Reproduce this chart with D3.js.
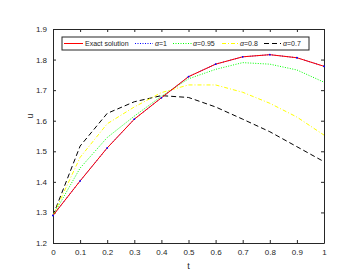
<!DOCTYPE html>
<html>
<head>
<meta charset="utf-8">
<script src="https://cdn.jsdelivr.net/npm/d3@7"></script>
<style>
  body { margin: 0; background: #fff; }
  svg text, svg tspan { font-family: "Liberation Sans", Arial, sans-serif; fill: #262626; }
  .axis path, .axis line { stroke: #262626; }
</style>
</head>
<body>
<div id="chart"></div>
<script>
var tValues = [0, 0.1, 0.2, 0.3, 0.4, 0.5, 0.6, 0.7, 0.8, 0.9, 1];
var exactU  = [1.29, 1.403, 1.511, 1.605, 1.675, 1.744, 1.785, 1.809, 1.816, 1.806, 1.778];
var alpha1  = [1.29, 1.403, 1.511, 1.605, 1.675, 1.744, 1.785, 1.809, 1.816, 1.806, 1.778];
var alpha095 = [1.29, 1.445, 1.545, 1.615, 1.68, 1.737, 1.768, 1.79, 1.785, 1.766, 1.726];
var alpha08 = [1.29, 1.48, 1.59, 1.645, 1.692, 1.717, 1.717, 1.693, 1.657, 1.612, 1.553];
var alpha07 = [1.29, 1.517, 1.624, 1.662, 1.682, 1.676, 1.645, 1.605, 1.564, 1.515, 1.466];
var xTicks = [0, 0.1, 0.2, 0.3, 0.4, 0.5, 0.6, 0.7, 0.8, 0.9, 1];
var yTicks = [1.2, 1.3, 1.4, 1.5, 1.6, 1.7, 1.8, 1.9];
var legendLabels = ["Exact solution", "\u03b1=1", "\u03b1=0.95", "\u03b1=0.8", "\u03b1=0.7"];

var margin = {top: 29, right: 32, bottom: 30, left: 53};
var width = 356 - margin.left - margin.right;
var height = 273 - margin.top - margin.bottom;

var svg = d3.select("#chart").append("svg")
  .attr("width", 356)
  .attr("height", 273)
  .append("g")
  .attr("transform", "translate(" + margin.left + "," + margin.top + ")");

var xScale = d3.scaleLinear().domain([0, 1]).range([0, width]);
var yScale = d3.scaleLinear().domain([1.2, 1.9]).range([height, 0]);

var fmt = function(d) { return d === 0 || d === 1 ? String(d) : d3.format(".1f")(d); };

// axes (MATLAB style box with inward ticks)
svg.append("g")
  .attr("class", "axis")
  .attr("transform", "translate(0," + height + ")")
  .call(d3.axisBottom(xScale).tickValues(xTicks).tickFormat(fmt).tickSizeInner(-3).tickSizeOuter(0).tickPadding(6))
  .call(function(g) { g.selectAll("text").attr("font-size", 8); });

svg.append("g")
  .attr("class", "axis")
  .call(d3.axisTop(xScale).tickValues(xTicks).tickFormat("").tickSizeInner(-3).tickSizeOuter(0));

svg.append("g")
  .attr("class", "axis")
  .call(d3.axisLeft(yScale).tickValues(yTicks).tickFormat(d3.format(".1f")).tickSizeInner(-3).tickSizeOuter(0).tickPadding(6))
  .call(function(g) { g.selectAll("text").attr("font-size", 8); });

svg.append("g")
  .attr("class", "axis")
  .attr("transform", "translate(" + width + ",0)")
  .call(d3.axisRight(yScale).tickValues(yTicks).tickFormat("").tickSizeInner(-3).tickSizeOuter(0));

svg.selectAll(".axis .domain").attr("stroke-width", 1);

// labels
svg.append("text")
  .attr("text-anchor", "middle")
  .attr("x", width / 2)
  .attr("y", height + 26)
  .attr("font-size", 9)
  .text("t");

svg.append("text")
  .attr("text-anchor", "middle")
  .attr("transform", "rotate(-90)")
  .attr("x", 0 - (height / 2) + 20)
  .attr("y", 0 - 20)
  .attr("font-size", 9)
  .text("u");

var line = d3.line()
  .x(function(d, i) { return xScale(tValues[i]); })
  .y(function(d) { return yScale(d); });

var series = [
  {data: alpha07, color: "#000000", dash: "5,3"},
  {data: alpha08, color: "#ffff00", dash: "4,2,1,2"},
  {data: alpha095, color: "#00ff00", dash: "1,1.5"},
  {data: alpha1, color: "#0000ff", dash: "1,1.5"}
];

series.forEach(function(s) {
  svg.append("path")
    .datum(s.data)
    .attr("fill", "none")
    .attr("stroke", s.color)
    .attr("stroke-width", 1)
    .attr("stroke-dasharray", s.dash)
    .attr("d", line);
});

svg.append("path")
  .datum(exactU)
  .attr("fill", "none")
  .attr("stroke", "#ff0000")
  .attr("stroke-width", 1)
  .attr("d", line);

// point markers of alpha=1 peek out over the exact line
svg.selectAll(".mk")
  .data(alpha1)
  .enter()
  .append("circle")
  .attr("class", "mk")
  .attr("cx", function(d, i) { return xScale(tValues[i]); })
  .attr("cy", function(d) { return yScale(d); })
  .attr("r", 0.9)
  .attr("fill", "#0000ff");

// legend
var legend = svg.append("g").attr("transform", "translate(9,8)");
legend.append("rect")
  .attr("width", 247)
  .attr("height", 13)
  .attr("fill", "#fff")
  .attr("stroke", "#262626")
  .attr("stroke-width", 1);

var legendItems = [
  {label: legendLabels[0], color: "#ff0000", dash: null, x0: 2, x1: 21, tx: 23},
  {label: legendLabels[1], color: "#0000ff", dash: "1,1.5", x0: 73, x1: 91, tx: 93},
  {label: legendLabels[2], color: "#00ff00", dash: "1,1.5", x0: 111, x1: 130, tx: 131},
  {label: legendLabels[3], color: "#ffff00", dash: "4,2,1,2", x0: 160, x1: 176, tx: 178},
  {label: legendLabels[4], color: "#000000", dash: "5,3", x0: 202, x1: 219, tx: 221}
];

legendItems.forEach(function(it) {
  legend.append("line")
    .attr("x1", it.x0).attr("x2", it.x1)
    .attr("y1", 6.5).attr("y2", 6.5)
    .attr("stroke", it.color)
    .attr("stroke-width", 1)
    .attr("stroke-dasharray", it.dash);
  var t = legend.append("text")
    .attr("x", it.tx)
    .attr("y", 9)
    .attr("font-size", 7)
    .attr("fill", "#000");
  if (it.label.charAt(0) === "\u03b1") {
    t.append("tspan").attr("font-style", "italic").attr("fill", "#000").text("\u03b1");
    t.append("tspan").attr("fill", "#000").text(it.label.slice(1));
  } else {
    t.text(it.label);
  }
});
</script>
</body>
</html>
